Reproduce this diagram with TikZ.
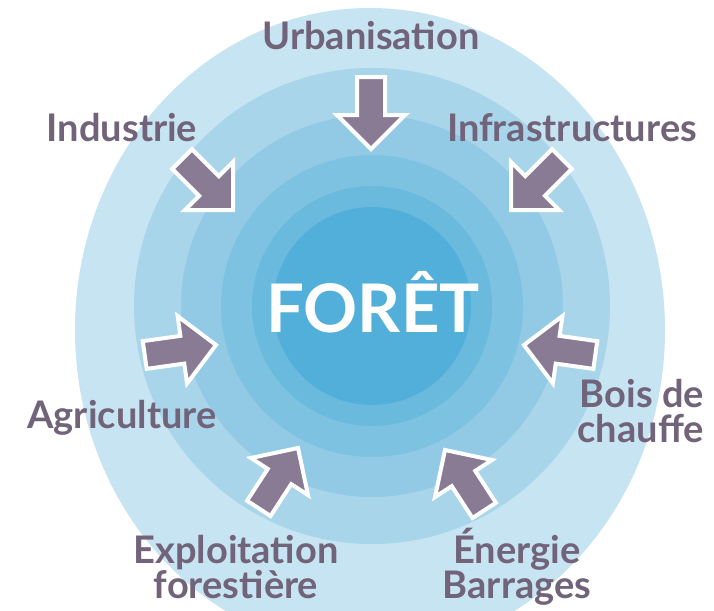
\documentclass[tikz,border=0pt]{standalone}
\usepackage{fontspec}
\setmainfont{Lato}
\begin{document}
\begin{tikzpicture}[x=1pt,y=-1pt,
  lbl/.style={font=\fontsize{38}{38}\selectfont\bfseries, text=labelcol, inner sep=0pt},
  arrowfill/.style={fill=arrowcol, draw=white, line width=4pt, line join=miter},
  inarrow/.pic={\path[arrowfill] (0,0) -- (-34,34) -- (-34,14) -- (-72,14) -- (-72,-14) -- (-34,-14) -- (-34,-34) -- cycle;}]
\definecolor{labelcol}{HTML}{716379}
\definecolor{arrowcol}{HTML}{8A7B94}
\definecolor{ringA}{HTML}{C6E4F1}
\definecolor{ringB}{HTML}{A8D5EA}
\definecolor{ringC}{HTML}{92CAE5}
\definecolor{ringD}{HTML}{7EC2E2}
\definecolor{ringE}{HTML}{6ABADE}
\definecolor{ringF}{HTML}{52AFD9}
\useasboundingbox (0,0) rectangle (714,610);
\clip (0,0) rectangle (714,610);
\fill[white] (0,0) rectangle (714,610);
% concentric zones
\fill[ringA] (370,330) ellipse [x radius=295, y radius=322];
\fill[ringB] (372,306) circle [radius=238];
\fill[ringC] (372,306) circle [radius=191];
\fill[ringD] (372,306) circle [radius=151];
\fill[ringE] (372,306) circle [radius=120];
\fill[ringF] (372,306) circle [radius=99];
% arrows
\pic[rotate=-90] at (371,149) {inarrow};
\pic[rotate=-45] at (233,210) {inarrow};
\pic[rotate=-135] at (511,210) {inarrow};
\pic[rotate=8] at (216,345) {inarrow};
\pic[rotate=172] at (524,345) {inarrow};
\pic[rotate=57] at (298,448) {inarrow};
\pic[rotate=123] at (445,450) {inarrow};
% labels
\node[lbl, anchor=base] (urb) at (371,50) {Urbanisation};
\node[lbl, anchor=base] (ind) at (122,141) {Industrie};
\node[lbl, anchor=base] (infra) at (572,141) {Infrastructures};
\node[lbl, anchor=base] (agri) at (122,428) {Agriculture};
\node[lbl, anchor=base east] (bois1) at (704,407) {Bois de};
\node[lbl, anchor=base east] (bois2) at (704,442) {chauffe};
\node[lbl, anchor=base] (expl1) at (236,563) {Exploitation};
\node[lbl, anchor=base] (expl2) at (236,598) {forestière};
\node[lbl, anchor=base] (ener1) at (517,563) {Énergie};
\node[lbl, anchor=base] (ener2) at (517,598) {Barrages};
\node[font=\fontsize{67}{67}\selectfont\bfseries, text=white, inner sep=0pt, anchor=base] (foret) at (373,332) {FORÊT};
\end{tikzpicture}
\end{document}
